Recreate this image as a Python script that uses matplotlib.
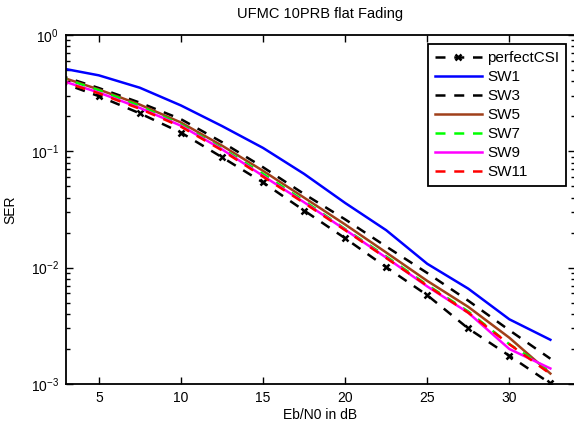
import matplotlib
matplotlib.use("Agg")
import matplotlib.pyplot as plt
from matplotlib.ticker import LogLocator, NullFormatter, FixedLocator

plt.rcParams['font.family'] = ['Liberation Sans', 'DejaVu Sans']
plt.rcParams['mathtext.fontset'] = 'custom'
plt.rcParams['mathtext.rm'] = 'Liberation Sans'
plt.rcParams['mathtext.it'] = 'Liberation Sans'

ebn0 = [2.5, 5, 7.5, 10, 12.5, 15, 17.5, 20, 22.5, 25, 27.5, 30, 32.5]
perfect_csi = [0.40, 0.298, 0.212, 0.145, 0.089, 0.054, 0.031, 0.0179, 0.0101, 0.0058, 0.0030, 0.00175, 0.00101]
sw1 = [0.525, 0.45, 0.352, 0.248, 0.165, 0.107, 0.064, 0.036, 0.021, 0.0108, 0.0066, 0.0036, 0.0024]
sw3 = [0.455, 0.35, 0.262, 0.189, 0.120, 0.073, 0.043, 0.026, 0.0152, 0.0090, 0.0052, 0.0029, 0.00165]
sw5 = [0.445, 0.34, 0.252, 0.177, 0.112, 0.068, 0.040, 0.0235, 0.0135, 0.0077, 0.0046, 0.0025, 0.00123]
sw7 = [0.44, 0.335, 0.245, 0.170, 0.106, 0.064, 0.0375, 0.0215, 0.0125, 0.0071, 0.0042, 0.0022, 0.0013]
sw9 = [0.415, 0.32, 0.236, 0.166, 0.104, 0.0615, 0.0365, 0.0212, 0.0122, 0.0069, 0.0041, 0.0020, 0.00136]
sw11 = [0.41, 0.315, 0.232, 0.163, 0.102, 0.0605, 0.036, 0.0210, 0.0121, 0.0070, 0.0041, 0.0022, 0.00122]

title = "UFMC 10PRB flat Fading"
xlabel = "Eb/N0 in dB"
ylabel = "SER"
xticks = [5, 10, 15, 20, 25, 30]

fig = plt.figure(figsize=(5.74, 4.25), dpi=100)
ax = fig.add_axes([66/574, 1-384/425, (575-66)/574, (384-35)/425])

lw = 1.8
dash = (4, 3.5)
ax.plot(ebn0, perfect_csi, color='black', lw=lw, dashes=dash, marker='x', ms=5, mew=1.8, label='perfectCSI')
ax.plot(ebn0, sw1, color='#0000ff', lw=lw, label='SW1')
ax.plot(ebn0, sw3, color='black', lw=lw, dashes=dash, label='SW3')
ax.plot(ebn0, sw5, color='#a0401a', lw=lw, label='SW5')
ax.plot(ebn0, sw7, color='#00ff00', lw=lw, dashes=dash, label='SW7')
ax.plot(ebn0, sw9, color='#ff00ff', lw=lw, label='SW9')
ax.plot(ebn0, sw11, color='#ff0000', lw=lw, dashes=dash, label='SW11')

ax.set_yscale('log')
ax.set_xlim(3, 34)
ax.set_ylim(1e-3, 1)
ax.xaxis.set_major_locator(FixedLocator(xticks))
ax.yaxis.set_major_locator(LogLocator(base=10, numticks=10))
ax.yaxis.set_minor_locator(LogLocator(base=10, subs=range(2, 10), numticks=20))
ax.yaxis.set_minor_formatter(NullFormatter())
ax.tick_params(which='both', direction='in', top=True, right=True, labelsize=10, width=1.0)
ax.tick_params(which='major', length=5, pad=5)
ax.tick_params(which='minor', length=3)
for s in ax.spines.values():
    s.set_linewidth(1.3)

ax.set_title(title, fontsize=10.5, pad=12)
ax.set_xlabel(xlabel, fontsize=10, labelpad=2)
ax.set_ylabel(ylabel, fontsize=10, labelpad=10)

leg = ax.legend(loc='upper right', bbox_to_anchor=(566/574, 1-44/425), bbox_transform=fig.transFigure,
                borderaxespad=0, fancybox=False, edgecolor='black', framealpha=1, fontsize=11,
                handlelength=3.1, handletextpad=0.33, labelspacing=0.33, borderpad=0.45)
leg.get_frame().set_linewidth(1.3)

fig.savefig('out.png', dpi=100)
